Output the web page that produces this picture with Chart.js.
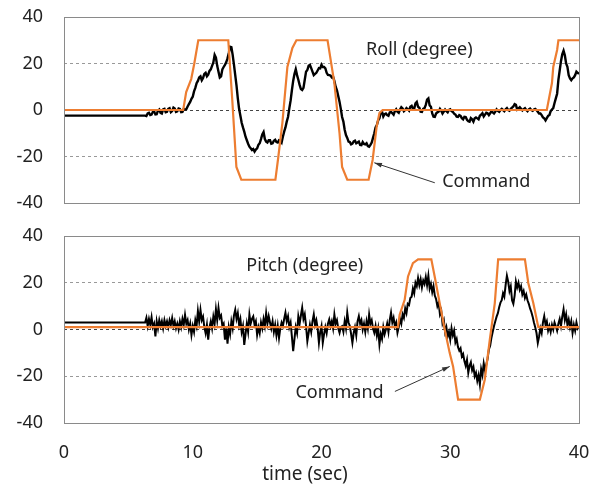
<!DOCTYPE html>
<html>
<head>
<meta charset="utf-8">
<script src="https://cdn.jsdelivr.net/npm/chart.js@4.4.1/dist/chart.umd.min.js"></script>
<style>
  body { margin: 0; background: #fff; }
  #wrap { position: relative; width: 599px; height: 487px; }
  canvas { position: absolute; left: 0; }
  #rollChart { top: 0; }
  #pitchChart { top: 215px; }
</style>
</head>
<body>
<div id="wrap">
  <canvas id="rollChart" width="599" height="215"></canvas>
  <canvas id="pitchChart" width="599" height="272"></canvas>
</div>
<script>
// measured signals are sampled every 0.1 s, 0..40 s
const timeStep = 0.1;
const xTicks = [0, 10, 20, 30, 40];
const yTicks = [-40, -20, 0, 20, 40];

// roll (degree), one row = 1 s
const rollMeasured = [
  -2.4, -2.4, -2.4, -2.4, -2.4, -2.4, -2.4, -2.4, -2.4, -2.4,
  -2.4, -2.4, -2.4, -2.4, -2.4, -2.4, -2.4, -2.4, -2.4, -2.4,
  -2.4, -2.4, -2.4, -2.4, -2.4, -2.4, -2.4, -2.4, -2.4, -2.4,
  -2.4, -2.4, -2.4, -2.4, -2.4, -2.4, -2.4, -2.4, -2.4, -2.4,
  -2.4, -2.4, -2.4, -2.4, -2.4, -2.4, -2.4, -2.4, -2.4, -2.4,
  -2.4, -2.4, -2.4, -2.4, -2.4, -2.4, -2.4, -2.4, -2.4, -2.4,
  -2.4, -2.4, -2.4, -2.4, -2.6, -1.5, -1.2, -2.2, -2.0, -0.8,
  -0.6, -1.9, -1.8, -0.3, 0.2, -1.2, -1.5, 0.3, 0.5, -1.0,
  -0.8, 0.5, 0.8, -0.9, -0.4, 1.0, 0.6, -0.8, -0.6, 0.6,
  0.4, -0.9, -0.8, 0.5, 0.2, 0.3, 1.5, 2.5, 3.5, 4.8,
  5.7, 8.0, 9.5, 11.5, 12.5, 14.0, 14.5, 12.8, 13.8, 15.5,
  16.0, 14.5, 15.2, 16.8, 17.5, 19.0, 20.5, 23.7, 22.5, 19.0,
  16.5, 14.0, 14.5, 17.5, 18.5, 19.4, 20.5, 22.2, 24.5, 27.2,
  27.0, 23.7, 19.5, 15.0, 10.5, 5.0, 0.5, -2.5, -5.5, -7.5,
  -9.3, -11.5, -13.0, -14.5, -15.8, -16.5, -17.2, -16.8, -17.9, -17.0,
  -16.5, -15.0, -14.3, -12.5, -10.5, -9.5, -12.5, -13.6, -14.0, -13.0,
  -13.0, -14.5, -14.3, -13.2, -12.8, -13.8, -14.0, -13.0, -13.2, -14.0,
  -11.5, -9.3, -7.5, -5.0, -3.0, 0.7, 4.0, 8.5, 12.5, 15.5,
  17.5, 15.0, 13.0, 10.8, 9.0, 8.6, 9.5, 13.0, 16.5, 17.2,
  19.0, 19.4, 18.0, 16.5, 15.0, 15.5, 16.0, 17.0, 18.0, 17.9,
  19.5, 18.5, 18.5, 17.9, 16.0, 15.1, 15.0, 14.8, 14.0, 14.3,
  12.5, 10.0, 8.5, 6.0, 3.6, 0.5, -3.0, -5.0, -8.5, -10.8,
  -12.0, -13.6, -13.8, -14.8, -14.5, -13.5, -13.2, -14.3, -14.0, -13.6,
  -15.0, -15.1, -13.8, -14.6, -14.8, -14.3, -15.5, -15.8, -15.0, -14.0,
  -12.0, -10.0, -7.5, -6.5, -4.5, -3.6, -1.0, -0.7, -2.8, -1.8,
  -1.5, -2.2, -2.5, -1.0, -0.8, -1.4, -2.0, -0.5, 0.3, -0.7,
  -1.2, 0.2, 1.2, 0.7, -0.5, 0.0, 0.8, 0.3, -0.3, 1.4,
  1.8, 0.5, 0.5, 2.9, 3.5, 1.4, 1.0, -0.7, -0.8, 0.5,
  0.8, 2.2, 4.5, 5.0, 2.0, 1.4, -1.5, -2.9, -3.0, -1.5,
  -1.0, -0.7, 0.5, -0.3, -1.5, -0.7, 0.2, -0.5, -1.0, 0.0,
  0.3, -0.5, -0.8, -1.6, -2.0, -2.9, -3.0, -2.2, -2.5, -3.5,
  -4.0, -2.9, -3.0, -4.2, -4.8, -5.0, -3.5, -4.0, -5.0, -3.6,
  -3.2, -3.6, -4.0, -2.5, -2.0, -1.4, -2.8, -2.0, -1.2, -1.4,
  -2.2, -1.4, -0.5, -1.0, -1.5, -0.7, 0.3, -0.4, -0.8, 0.0,
  0.5, 0.0, -0.5, 0.3, 0.8, 0.0, -0.3, 0.5, 1.0, 1.5,
  2.5, 2.2, 0.2, 0.7, 1.2, 0.5, -0.2, 0.4, 0.8, 0.0,
  -0.5, 0.3, 0.6, 0.0, -0.3, 0.2, 0.5, 0.0, -0.8, -1.5,
  -1.5, -2.2, -3.2, -3.6, -4.5, -3.5, -2.5, -2.2, -0.5, 0.2,
  0.8, 3.0, 5.0, 7.0, 13.0, 17.0, 21.0, 24.0, 25.5, 23.5,
  20.0, 18.6, 15.0, 13.6, 12.8, 13.6, 14.0, 15.0, 16.5, 16.0,
  15.5
];
const rollCmdTime = [0, 9.26, 9.49, 9.88, 10.12, 10.43, 12.76, 13.07, 13.39, 13.77,
  16.42, 16.65, 16.96, 17.35, 17.74, 18.05, 20.47, 21.0, 21.4, 21.6, 22.0,
  23.66, 23.97, 24.28, 24.5, 24.75, 37.5, 37.9, 38.0, 38.3, 38.4, 40];
const rollCmdValue = [0, 0, 7.7, 13.3, 20, 30, 30, 4.3, -24.5, -30,
  -30, -20, -5.6, 18.5, 26.7, 30, 30, 11.6, -10, -24.5, -30,
  -30, -21.5, -7.3, -1.3, 0, 0, 11.6, 18.5, 25.8, 30, 30];

// pitch (degree), one row = 1 s
const pitchMeasured = [
  3.0, 3.0, 3.0, 3.0, 3.0, 3.0, 3.0, 3.0, 3.0, 3.0,
  3.0, 3.0, 3.0, 3.0, 3.0, 3.0, 3.0, 3.0, 3.0, 3.0,
  3.0, 3.0, 3.0, 3.0, 3.0, 3.0, 3.0, 3.0, 3.0, 3.0,
  3.0, 3.0, 3.0, 3.0, 3.0, 3.0, 3.0, 3.0, 3.0, 3.0,
  3.0, 3.0, 3.0, 3.0, 3.0, 3.0, 3.0, 3.0, 3.0, 3.0,
  3.0, 3.0, 3.0, 3.0, 3.0, 3.0, 3.0, 3.0, 3.0, 3.0,
  3.0, 3.0, 3.0, 3.0, 5.0, 1.5, 4.5, 2.0, 5.3, 1.0,
  2.5, -3.0, 3.5, 0.5, 4.0, 1.5, 3.5, 0.5, 4.0, 1.5,
  3.5, 1.0, 4.0, 2.0, 4.9, 1.5, 3.5, 0.5, 2.5, 0.0,
  3.5, 1.0, 4.5, 2.0, 6.3, 2.5, 4.0, 0.0, 2.5, -2.3,
  1.5, -1.0, 4.0, 1.5, 7.9, 3.5, 8.4, 4.0, 5.5, 1.0,
  -1.6, 2.0, -4.3, 1.0, 3.5, 0.5, 5.5, 2.5, 8.6, 4.0,
  9.2, 5.0, 6.0, 1.5, 2.5, -4.3, 0.5, -6.1, 1.0, -2.0,
  3.5, 0.5, 6.0, 8.4, 4.5, 7.0, 2.0, 4.5, -1.0, 1.5,
  -6.6, -2.0, 2.5, -1.0, 6.4, 2.5, 4.5, 5.6, 2.0, 3.5,
  -2.3, 1.0, -1.5, 3.0, 0.5, 4.5, 1.5, 7.0, 2.5, 5.7,
  3.0, 0.5, 3.5, -1.0, 2.0, -2.5, 1.5, -3.6, 0.5, 3.0,
  1.5, 4.5, 7.2, 3.5, 5.6, 1.0, 3.0, -3.0, -9.3, -4.0,
  1.0, -1.5, 5.6, 2.5, 6.0, 9.3, 4.5, 6.5, 1.5, -5.0,
  -1.5, 2.0, -1.0, 3.5, 6.4, 2.0, 4.0, 0.5, -5.7, -1.0,
  1.5, -5.7, -2.0, 1.0, -1.5, 2.5, 4.3, 1.5, 3.5, 0.5,
  6.4, 2.5, 4.0, 0.5, -1.4, 1.0, 1.4, -1.0, 3.5, 0.5,
  7.2, 3.0, 1.5, -2.0, -5.7, -1.5, 1.0, -2.5, 3.5, 5.7,
  2.5, 4.0, 0.0, 2.5, -1.0, 3.5, 0.5, 6.4, 2.5, 4.0,
  0.5, -1.4, 1.5, -2.5, 0.5, -6.4, -2.0, -4.0, 1.0, -2.0,
  0.0, 2.5, -1.0, 4.0, 7.2, 3.0, 5.0, 1.4, 3.0, -1.4,
  1.0, 4.5, 2.5, 6.5, 5.0, 9.0, 7.0, 11.0, 10.5, 13.5,
  14.0, 17.5, 15.5, 20.0, 18.5, 22.0, 19.0, 21.5, 18.0, 21.0,
  19.5, 22.5, 19.0, 23.0, 17.5, 19.5, 16.0, 18.5, 14.5, 13.0,
  10.0, 11.5, 6.5, 8.0, 2.5, 4.0, -1.0, 1.0, -3.0, -1.0,
  -4.3, 0.5, -2.5, -0.5, -5.5, -4.0, -7.5, -9.0, -8.0, -11.5,
  -10.5, -13.5, -15.5, -13.0, -18.5, -15.5, -14.0, -17.5, -16.0, -20.0,
  -18.5, -22.0, -19.5, -23.5, -17.0, -19.5, -14.5, -17.5, -15.0, -12.5,
  -8.5, -7.0, -3.5, -1.0, 1.5, 3.5, 5.5, 7.0, 9.5, 11.5,
  12.5, 15.5, 14.0, 19.0, 23.0, 20.5, 16.5, 18.5, 12.5, 11.0,
  14.5, 20.5, 18.0, 20.0, 17.0, 18.5, 15.0, 16.5, 13.5, 15.0,
  12.5, 11.0, 9.0, 7.5, 5.5, 3.0, 1.0, -1.5, -5.7, -3.0,
  0.5, -1.5, 3.0, 5.7, 2.0, 3.5, -0.5, 1.5, -1.0, 2.0,
  0.0, 3.0, 1.4, -0.5, 2.5, 4.5, 1.5, 5.5, 8.6, 4.0,
  6.5, 2.0, 4.3, 1.0, 3.5, -1.4, 2.0, -0.5, 3.0, 0.5,
  1.4
];
const pitchCmdTime = [0, 25.94, 26.07, 26.46, 26.72, 27.1, 27.5, 28.53, 28.79, 29.18,
  29.57, 29.96, 30.22, 30.61, 32.3, 32.68, 33.07, 33.46, 33.72, 35.8,
  36.06, 36.45, 36.84, 40];
const pitchCmdValue = [1, 1, 6.3, 12.7, 22.7, 28.4, 30, 30, 22.7, 11.3,
  0, -10.1, -15.8, -30, -30, -21.5, -4.4, 11.3, 30, 30,
  19.9, 11.3, 1, 1];

const FONT = "'Noto Sans', 'Open Sans', sans-serif";
const ORANGE = "#ed7d31";

function toPoints(values) {
  return values.map((v, i) => ({ x: Math.round(i * timeStep * 10) / 10, y: v }));
}
function pairPoints(times, values) {
  return times.map((t, i) => ({ x: t, y: values[i] }));
}

// frame round the plot area, texts and arrows in data units
const notesPlugin = {
  id: "notes",
  afterDraw(chart, args, opts) {
    const { ctx, chartArea: a, scales } = chart;
    ctx.save();
    ctx.strokeStyle = "#8a8a8a";
    ctx.lineWidth = 1;
    ctx.strokeRect(a.left + 0.5, a.top + 0.5, a.right - a.left, a.bottom - a.top);

    ctx.fillStyle = "#222";
    ctx.font = "18px " + FONT;
    ctx.textAlign = "center";
    ctx.textBaseline = "middle";
    (opts.labels || []).forEach((l) => {
      ctx.fillText(l.text, scales.x.getPixelForValue(l.x), scales.y.getPixelForValue(l.y));
    });

    (opts.arrows || []).forEach((ar) => {
      const x1 = scales.x.getPixelForValue(ar.from[0]);
      const y1 = scales.y.getPixelForValue(ar.from[1]);
      const x2 = scales.x.getPixelForValue(ar.to[0]);
      const y2 = scales.y.getPixelForValue(ar.to[1]);
      const ang = Math.atan2(y2 - y1, x2 - x1);
      ctx.strokeStyle = "#333";
      ctx.lineWidth = 1;
      ctx.beginPath();
      ctx.moveTo(x1, y1);
      ctx.lineTo(x2, y2);
      ctx.stroke();
      ctx.fillStyle = "#333";
      ctx.beginPath();
      ctx.moveTo(x2, y2);
      ctx.lineTo(x2 - 8 * Math.cos(ang - 0.3), y2 - 8 * Math.sin(ang - 0.3));
      ctx.lineTo(x2 - 8 * Math.cos(ang + 0.3), y2 - 8 * Math.sin(ang + 0.3));
      ctx.closePath();
      ctx.fill();
    });

    if (opts.axisTitle) {
      ctx.fillStyle = "#222";
      ctx.font = "19px " + FONT;
      ctx.fillText(opts.axisTitle, a.left + 241, a.bottom + 52);
    }
    ctx.restore();
  },
};

function makeChart(id, measured, lineW, cmdT, cmdV, showX, pad, notes) {
  return new Chart(document.getElementById(id), {
    type: "line",
    data: {
      datasets: [
        {
          label: "Command",
          data: pairPoints(cmdT, cmdV),
          borderColor: ORANGE,
          borderWidth: 2.2,
          pointRadius: 0,
          tension: 0,
        },
        {
          label: "Measured",
          data: toPoints(measured),
          borderColor: "#000",
          borderWidth: lineW,
          pointRadius: 0,
          tension: 0,
        },
      ],
    },
    options: {
      responsive: false,
      animation: false,
      devicePixelRatio: 1,
      layout: { padding: pad },
      plugins: {
        legend: { display: false },
        tooltip: { enabled: false },
        notes: notes,
      },
      scales: {
        x: {
          type: "linear",
          min: 0,
          max: 40,
          display: showX,
          afterBuildTicks: (s) => { s.ticks = xTicks.map((v) => ({ value: v })); },
          afterFit: (s) => {
            if (showX) s.height = 64;
            s.paddingLeft = 0;
            s.paddingRight = 0;
          },
          grid: { display: false, drawTicks: false },
          border: { display: false },
          ticks: { font: { size: 18, family: FONT }, color: "#222", padding: 19 },
        },
        y: {
          min: -40,
          max: 40,
          afterBuildTicks: (s) => { s.ticks = yTicks.map((v) => ({ value: v })); },
          // fixed axis width, and no extra room for the end labels
          afterFit: (s) => {
            s.width = 64;
            s.paddingTop = 0;
            s.paddingBottom = 0;
          },
          grid: {
            drawTicks: false,
            color: (c) => (c.tick && c.tick.value === 0 ? "#444" : "#999"),
          },
          border: { display: false, dash: [3, 3] },
          ticks: { font: { size: 18, family: FONT }, color: "#222", padding: 21 },
        },
      },
    },
    plugins: [notesPlugin],
  });
}

makeChart("rollChart", rollMeasured, 2.4, rollCmdTime, rollCmdValue, false,
  { top: 17, bottom: 12, right: 20, left: 0 },
  {
    labels: [
      { text: "Roll (degree)", x: 27.6, y: 25.8 },
      { text: "Command", x: 32.8, y: -31 },
    ],
    arrows: [{ from: [28.8, -31.3], to: [24.1, -22.7] }],
  });

makeChart("pitchChart", pitchMeasured, 2.0, pitchCmdTime, pitchCmdValue, true,
  { top: 21, bottom: 0, right: 20, left: 0 },
  {
    labels: [
      { text: "Pitch (degree)", x: 18.7, y: 27.4 },
      { text: "Command", x: 21.4, y: -27 },
    ],
    arrows: [{ from: [25.7, -26.5], to: [29.96, -15.8] }],
    axisTitle: "time (sec)",
  });
</script>
</body>
</html>
